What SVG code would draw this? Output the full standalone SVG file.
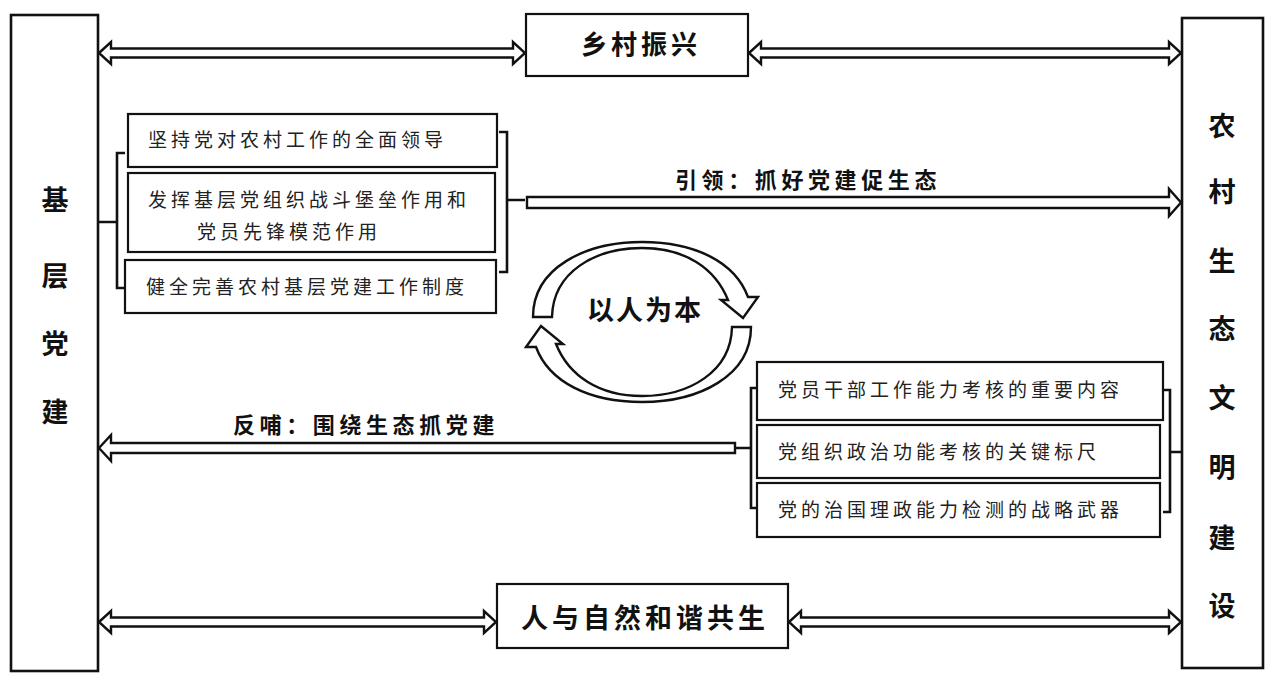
<svg xmlns="http://www.w3.org/2000/svg" width="1269" height="678" viewBox="0 0 1269 678">
<style>
.box{fill:#fff;stroke:#111;stroke-width:2.2}
.big{fill:#fff;stroke:#111;stroke-width:2.6}
.ln{fill:none;stroke:#111;stroke-width:2.6}
.arr{fill:#fff;stroke:#111;stroke-width:2.4;stroke-linejoin:miter}
.t{font-family:"Noto Sans CJK SC","Noto Sans CJK JP",sans-serif;fill:#222;font-size:19px;letter-spacing:4px}
.tb{font-family:"Noto Sans CJK SC","Noto Sans CJK JP",sans-serif;fill:#111;font-weight:bold}
.col{font-size:27px;text-anchor:middle}
</style>
<rect width="1269" height="678" fill="#fff"/>
<g id="connectors">
<path class="arr" d="M99,53 L111,42 L111,48.5 L513,48.5 L513,42 L525,53 L513,64 L513,57.5 L111,57.5 L111,64 Z"/>
<path class="arr" d="M749,53 L761,42 L761,48.5 L1169,48.5 L1169,42 L1181,53 L1169,64 L1169,57.5 L761,57.5 L761,64 Z"/>
<path class="arr" d="M99,622 L111,611 L111,617.5 L484,617.5 L484,611 L496,622 L484,633 L484,626.5 L111,626.5 L111,633 Z"/>
<path class="arr" d="M789,622 L801,611 L801,617.5 L1169,617.5 L1169,611 L1181,622 L1169,633 L1169,626.5 L801,626.5 L801,633 Z"/>
<path class="arr" d="M527,197 L1169,197 L1169,189 L1181,202.5 L1169,216 L1169,208 L527,208 Z"/>
<path class="arr" d="M735,443 L111,443 L111,435 L99,448 L111,461 L111,453 L735,453 Z"/>
<path class="ln" d="M125,153 L117,153 L117,288 L125,288 M98,222 L117,222"/>
<path class="ln" d="M499,132 L507,132 L507,272 L499,272 M507,200 L525,200"/>
<path class="ln" d="M757,388 L751,388 L751,508 L757,508 M735,448 L751,448"/>
<path class="ln" d="M1163,390 L1170,390 L1170,512 L1163,512 M1170,452 L1182,452"/>
</g>
<g id="cycle">
<path id="arcTop" class="arr" d="M533,317 C533,268 585,242 642,242 C695,242 735,262 748,297 L758,297 L743,318 L721,300 L728,300 C715,268 685,248 642,248 C595,248 553,272 552,317 Z"/>
<path class="arr" transform="rotate(180 642 322)" d="M533,317 C533,268 585,242 642,242 C695,242 735,262 748,297 L758,297 L743,318 L721,300 L728,300 C715,268 685,248 642,248 C595,248 553,272 552,317 Z"/>
<text class="tb" x="645" y="320" font-size="27" text-anchor="middle" letter-spacing="2">以人为本</text>
</g>
<g id="jiceng">
<rect class="big" x="11" y="15" width="87" height="656"/>
<text class="tb col" x="55" y="210">基</text>
<text class="tb col" x="55" y="286">层</text>
<text class="tb col" x="55" y="354">党</text>
<text class="tb col" x="55" y="422">建</text>
</g>
<g id="nongcun">
<rect class="big" x="1182" y="18" width="81" height="650"/>
<text class="tb col" x="1222" y="136">农</text>
<text class="tb col" x="1222" y="202">村</text>
<text class="tb col" x="1222" y="271">生</text>
<text class="tb col" x="1222" y="339">态</text>
<text class="tb col" x="1222" y="408">文</text>
<text class="tb col" x="1222" y="477">明</text>
<text class="tb col" x="1222" y="548">建</text>
<text class="tb col" x="1222" y="616">设</text>
</g>
<g id="xiangcun">
<rect class="box" x="526" y="14" width="222" height="62"/>
<text class="tb" x="641" y="54" font-size="26" text-anchor="middle" letter-spacing="4">乡村振兴</text>
</g>
<g id="renyuziran">
<rect class="box" x="497" y="584" width="291" height="64"/>
<text class="tb" x="645" y="628" font-size="27" text-anchor="middle" letter-spacing="4">人与自然和谐共生</text>
</g>
<g id="yinling-label">
<text class="tb" x="675" y="188" font-size="22" letter-spacing="4.6">引领：抓好党建促生态</text>
</g>
<g id="fanbu-label">
<text class="tb" x="233" y="433" font-size="22" letter-spacing="4.6">反哺：围绕生态抓党建</text>
</g>
<g id="left1">
<rect class="box" x="128" y="114" width="369" height="53"/>
<text class="t" x="148" y="147">坚持党对农村工作的全面领导</text>
</g>
<g id="left2">
<rect class="box" x="128" y="173" width="367" height="79"/>
<text class="t" x="148" y="207">发挥基层党组织战斗堡垒作用和</text>
<text class="t" x="197" y="239">党员先锋模范作用</text>
</g>
<g id="left3">
<rect class="box" x="125" y="260" width="371" height="53"/>
<text class="t" x="146" y="294">健全完善农村基层党建工作制度</text>
</g>
<g id="right1">
<rect class="box" x="757" y="362" width="406" height="58"/>
<text class="t" x="778" y="397">党员干部工作能力考核的重要内容</text>
</g>
<g id="right2">
<rect class="box" x="757" y="425" width="403" height="53"/>
<text class="t" x="778" y="459">党组织政治功能考核的关键标尺</text>
</g>
<g id="right3">
<rect class="box" x="757" y="483" width="403" height="54"/>
<text class="t" x="778" y="517">党的治国理政能力检测的战略武器</text>
</g>
</svg>
